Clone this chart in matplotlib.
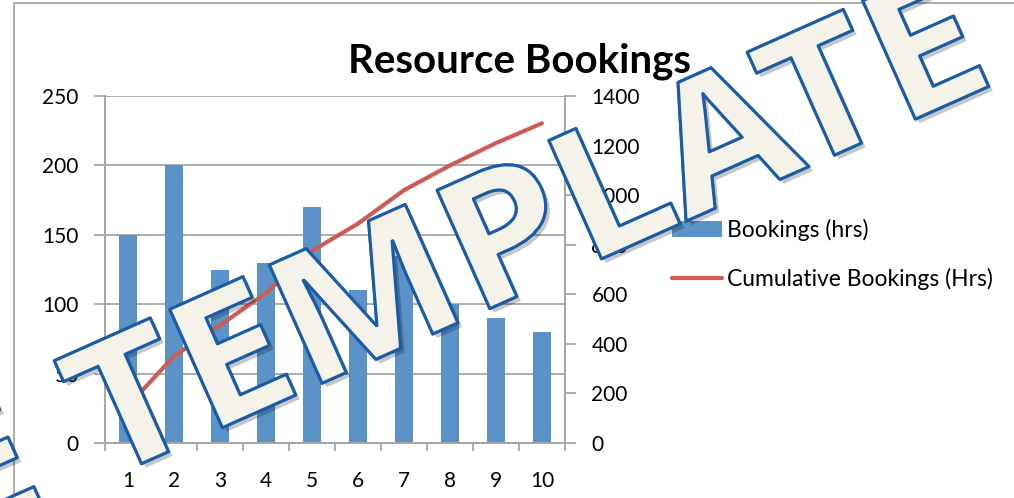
import matplotlib
matplotlib.use("Agg")
import matplotlib.pyplot as plt
from matplotlib.textpath import TextPath
from matplotlib.font_manager import FontProperties
from matplotlib.patches import PathPatch, Rectangle
from matplotlib.transforms import Affine2D
import matplotlib.patheffects as pe

# data
days = [1, 2, 3, 4, 5, 6, 7, 8, 9, 10]
bookings = [150, 200, 125, 130, 170, 110, 135, 100, 90, 80]
cumulative = [150, 350, 475, 605, 775, 885, 1020, 1120, 1210, 1290]
left_ticks = [0, 50, 100, 150, 200, 250]
right_ticks = [0, 200, 400, 600, 800, 1000, 1200, 1400]

W, H = 1014, 498
plt.rcParams['font.family'] = ['Lato', 'DejaVu Sans']

fig = plt.figure(figsize=(W / 100, H / 100), dpi=100)
fig.patch.set_facecolor('white')

# outer chart frame (runs off the right and bottom edge)
frame = Rectangle((13.5 / W, -0.1), 2.0, 1.1 - 3.5 / H, transform=fig.transFigure,
                  fill=False, edgecolor='#a6a6a6', linewidth=1.3, zorder=0)
fig.add_artist(frame)

ax = fig.add_axes([105 / W, 1 - 443 / H, 460 / W, 347 / H])
ax2 = ax.twinx()

grey = '#a6a6a6'
ax.bar(days, bookings, width=0.4, color='#5B93C9', zorder=2, label='Bookings (hrs)')
ax2.plot(days, cumulative, color='#CD5C54', linewidth=3, zorder=3,
         label='Cumulative Bookings (Hrs)', solid_capstyle='round')

ax.set_xlim(0.5, 10.5)
ax.set_ylim(0, 250)
ax2.set_ylim(0, 1400)
ax.set_yticks(left_ticks)
ax2.set_yticks(right_ticks)
ax.set_xticks(days)
ax.set_xticks([d + 0.5 for d in [0] + days], minor=True)
ax.yaxis.grid(True, color=grey, linewidth=1.3, zorder=0)
ax.set_axisbelow(True)

for a in (ax, ax2):
    for s in a.spines.values():
        s.set_color(grey)
        s.set_linewidth(1.3)
    a.spines['top'].set_visible(False)

ax.tick_params(axis='x', which='major', length=0, pad=20, labelsize=15)
ax.tick_params(axis='x', which='minor', length=6, width=1.3, color=grey, direction='out')
ax.tick_params(axis='y', length=8, width=1.3, color=grey, pad=11, labelsize=15)
ax2.tick_params(axis='y', length=8, width=1.3, color=grey, pad=11, labelsize=15)

fig.text(519 / W, 1 - 61 / H, 'Resource Bookings', ha='center', va='center',
         fontsize=29, fontweight='bold')

h1, l1 = ax.get_legend_handles_labels()
h2, l2 = ax2.get_legend_handles_labels()
fig.legend(h1 + h2, l1 + l2, loc='upper left', bbox_to_anchor=(651 / W, 1 - 198 / H),
           frameon=False, fontsize=16.5, handlelength=2.2, handleheight=0.7,
           handletextpad=0.2, labelspacing=1.2)

# TEMPLATE watermark, drawn in pixel space on top of everything
tp = TextPath((0, 0), 'TEMPLATE', size=100, prop=FontProperties(family='Open Sans', weight='bold'))
ext = tp.get_extents()
sx = 965 / ext.width
sy = 130 / ext.y1
px_to_fig = Affine2D().scale(1 / W, 1 / H) + fig.transFigure
for shift in (0, -1035):
    tr = (Affine2D().translate(-ext.x0, 0).scale(sx, sy).translate(shift, 0)
          .rotate_deg(24).translate(107, 19))
    path = tr.transform_path(tp)
    wm = PathPatch(path, facecolor='#f5f3e9', edgecolor='#1b5ca6', linewidth=2.2,
                   joinstyle='round', transform=px_to_fig, zorder=10, clip_on=False)
    wm.set_path_effects([pe.withSimplePatchShadow(offset=(3, -3), shadow_rgbFace='#000000', alpha=0.22),
                         pe.Normal()])
    fig.add_artist(wm)

fig.savefig('out.png', dpi=100)
